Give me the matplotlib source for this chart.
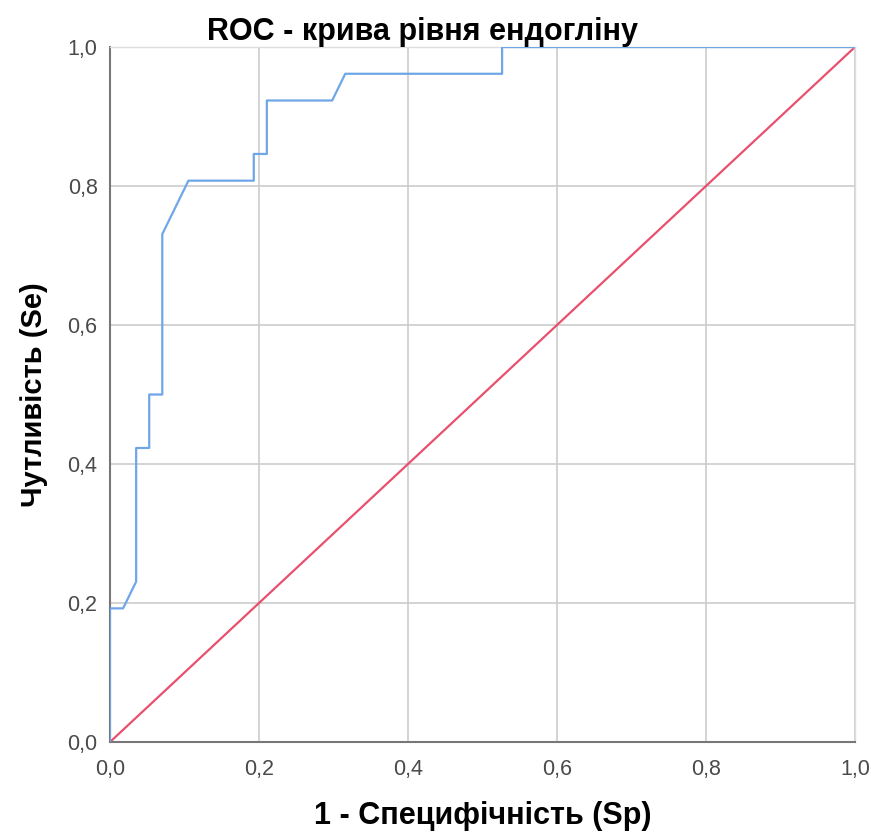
import numpy as np
import matplotlib
matplotlib.use('Agg')
import matplotlib.pyplot as plt
from matplotlib.ticker import FuncFormatter

plt.rcParams['font.family'] = ['Liberation Sans', 'DejaVu Sans']

# ROC points (26 positives, 57 negatives)
fpr = [0, 0, 1/57, 2/57, 2/57, 3/57, 3/57, 4/57, 4/57, 6/57, 11/57, 11/57,
       12/57, 12/57, 17/57, 18/57, 30/57, 30/57, 1.0]
tpr = [0, 5/26, 5/26, 6/26, 11/26, 11/26, 13/26, 13/26, 19/26, 21/26, 21/26,
       22/26, 22/26, 24/26, 24/26, 25/26, 25/26, 1.0, 1.0]
ref_line = [0, 1]
ticks = [0, 0.2, 0.4, 0.6, 0.8, 1.0]

fig = plt.figure(figsize=(8.71, 8.34), dpi=100)
ax = fig.add_axes([0.1263, 0.1103, 0.8553, 0.8333])

ax.plot(fpr, tpr, color='#6fa6e8', lw=1.6, zorder=3)
ax.plot(ref_line, ref_line, color='#e8506e', lw=1.6, zorder=2)

ax.set_xlim(0, 1)
ax.set_ylim(0, 1)
ax.set_xticks(ticks)
ax.set_yticks(ticks)
fmt = FuncFormatter(lambda v, p: ('%.1f' % v).replace('.', ','))
ax.xaxis.set_major_formatter(fmt)
ax.yaxis.set_major_formatter(fmt)
ax.tick_params(length=0, labelsize=15.5, labelcolor='#4a4a4a')
ax.tick_params(axis='y', pad=9)
ax.tick_params(axis='x', pad=12)
ax.grid(True, color='#cccccc', lw=1.2)
ax.set_axisbelow(True)

for s in ['top', 'right']:
    ax.spines[s].set_color('#dddddd')
    ax.spines[s].set_linewidth(1.0)
for s in ['left', 'bottom']:
    ax.spines[s].set_color('#777777')
    ax.spines[s].set_linewidth(1.5)

ax.set_title('ROC - крива рівня ендогліну', fontsize=22, fontweight='bold',
             pad=2, x=0.42)
ax.set_xlabel('1 - Специфічність (Sp)', fontsize=22, fontweight='bold',
              labelpad=15)
ax.set_ylabel('Чутливість (Se)', fontsize=21, fontweight='bold', labelpad=14)

fig.savefig('out.png', dpi=100)
